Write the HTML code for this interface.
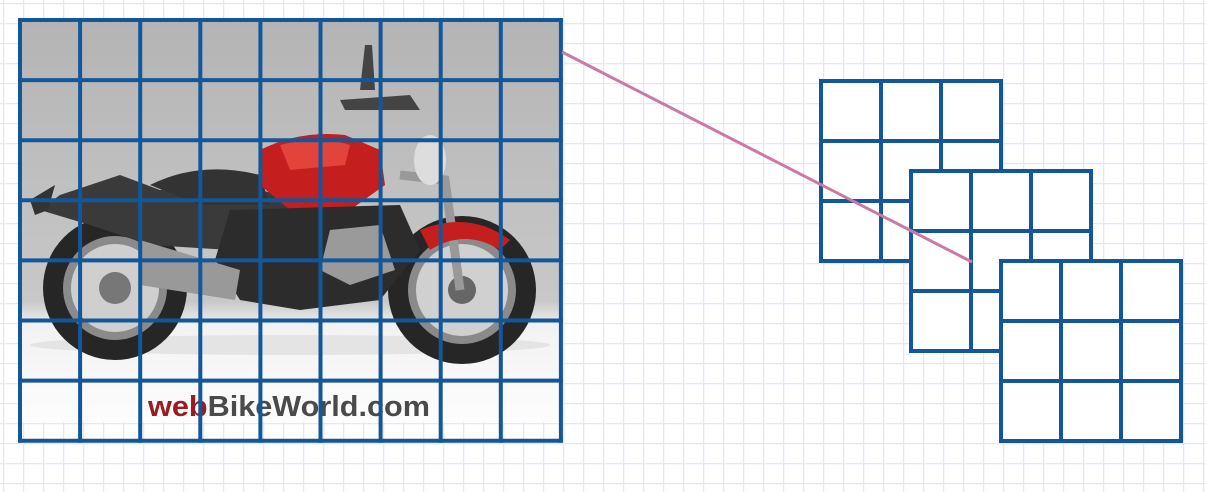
<!DOCTYPE html>
<html><head><meta charset="utf-8"><style>
html,body{margin:0;padding:0;background:#fff}
svg{display:block}
</style></head><body>
<svg width="1206" height="492" viewBox="0 0 1206 492" xmlns="http://www.w3.org/2000/svg">
<defs>
<pattern id="bg" x="3" y="3" width="20" height="20" patternUnits="userSpaceOnUse">
<path d="M0 0H20M0 0V20" stroke="#e8e4fb" stroke-width="2.5" fill="none"/>
</pattern>
<linearGradient id="photo" x1="0" y1="0" x2="0" y2="1">
<stop offset="0" stop-color="#b4b4b4"/><stop offset="0.7" stop-color="#c8c8c8"/><stop offset="0.76" stop-color="#f2f2f2"/><stop offset="1" stop-color="#fdfdfd"/>
</linearGradient>
</defs>
<rect width="1206" height="492" fill="url(#bg)"/>
<g>
<rect x="20" y="20" width="540" height="402" fill="url(#photo)"/>
<ellipse cx="290" cy="345" rx="260" ry="10" fill="#e4e4e4"/>
<circle cx="115" cy="288" r="72" fill="#262626"/>
<circle cx="115" cy="288" r="52" fill="#8a8a8a"/>
<circle cx="115" cy="288" r="44" fill="#cfcfcf"/>
<circle cx="115" cy="288" r="16" fill="#777"/>
<circle cx="462" cy="290" r="74" fill="#262626"/>
<circle cx="462" cy="290" r="54" fill="#8a8a8a"/>
<circle cx="462" cy="290" r="46" fill="#d0d0d0"/>
<circle cx="462" cy="290" r="14" fill="#666"/>
<path d="M40 210 L60 195 L120 175 L160 190 L190 185 L260 190 L300 200 L290 240 L230 250 L150 245 L90 225 Z" fill="#3a3a3a"/>
<path d="M150 185 Q200 160 260 175 L270 205 L200 205 Z" fill="#333"/>
<path d="M260 150 Q300 130 345 135 L380 150 L385 185 L350 210 L290 210 L260 185 Z" fill="#c41e1e"/>
<path d="M280 145 Q320 135 350 145 L345 165 L290 170 Z" fill="#e2433a"/>
<path d="M230 210 L400 205 L420 250 L380 300 L300 310 L240 300 L215 260 Z" fill="#2c2c2c"/>
<path d="M330 230 L380 225 L395 270 L350 285 L320 270 Z" fill="#9a9a9a"/>
<path d="M140 240 L240 270 L235 300 L140 285 Z" fill="#999"/>
<path d="M400 175 L445 180 L460 290" stroke="#999" stroke-width="9" fill="none"/>
<path d="M420 230 Q470 210 510 240 L500 250 Q465 228 430 250 Z" fill="#c41e1e"/>
<path d="M360 90 L365 45 L372 45 L375 90 Z" fill="#444"/>
<path d="M340 100 L410 95 L420 110 L345 110 Z" fill="#444"/>
<ellipse cx="430" cy="160" rx="16" ry="25" fill="#ddd"/>
<path d="M30 200 L55 185 L48 210 L35 215 Z" fill="#333"/>
<text x="148" y="416" textLength="282" lengthAdjust="spacingAndGlyphs" font-family="Liberation Sans, sans-serif" font-weight="bold" font-size="29" fill="#4a4a4a"><tspan fill="#9a1c22">web</tspan>BikeWorld.com</text>
</g>
<g id="big"></g>
<g id="k1"></g>
<g id="k2"></g>
<line x1="562" y1="52" x2="972" y2="262" stroke="#c97ba6" stroke-width="3"/>
<g id="k3"></g>
</svg>
<script>
const NS="http://www.w3.org/2000/svg";
function grid(g,x,y,cols,rows,cell,fill){
  if(fill){const r=document.createElementNS(NS,'rect');r.setAttribute('x',x);r.setAttribute('y',y);r.setAttribute('width',cols*cell);r.setAttribute('height',rows*cell);r.setAttribute('fill','#fff');
    
    
    g.appendChild(r);}
  for(let i=0;i<=cols;i++){const l=document.createElementNS(NS,'line');l.setAttribute('x1',x+i*cell);l.setAttribute('x2',x+i*cell);l.setAttribute('y1',y-2);l.setAttribute('y2',y+rows*cell+2);l.setAttribute('stroke','#13579a');l.setAttribute('stroke-width','4');
    
    
    g.appendChild(l);}
  for(let j=0;j<=rows;j++){const l=document.createElementNS(NS,'line');l.setAttribute('y1',y+j*cell);l.setAttribute('y2',y+j*cell);l.setAttribute('x1',x-2);l.setAttribute('x2',x+cols*cell+2);l.setAttribute('stroke','#13579a');l.setAttribute('stroke-width','4');
    
    
    g.appendChild(l);}
}
grid(document.getElementById('big'),20,20,9,7,60.1,false);
grid(document.getElementById('k1'),821,81,3,3,60,true);
grid(document.getElementById('k2'),911,171,3,3,60,true);
grid(document.getElementById('k3'),1001,261,3,3,60,true);
</script>
</body></html>
